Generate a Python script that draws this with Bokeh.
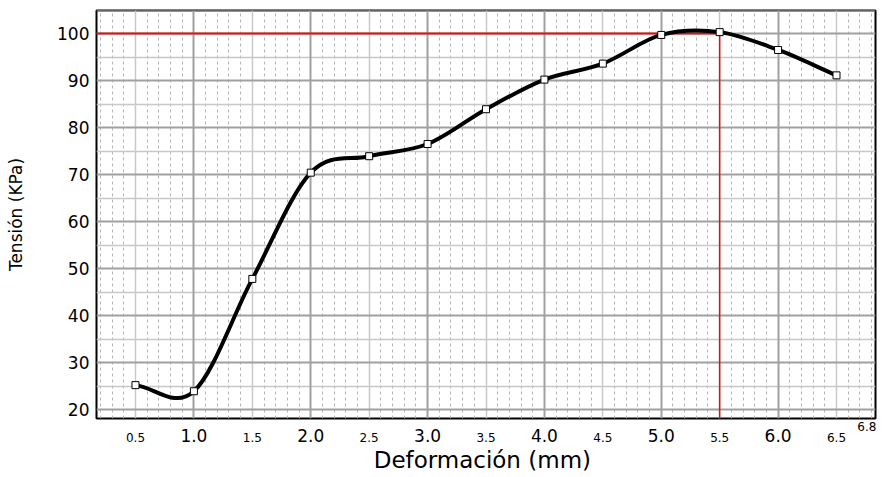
import numpy as np
from bokeh.plotting import figure
from bokeh.models import (ColumnDataSource, FixedTicker, Grid, LinearAxis,
                          NumeralTickFormatter, Range1d)
from bokeh.embed import file_html
from bokeh.resources import INLINE

# ---- data ----
deformacion = [0.5, 1.0, 1.5, 2.0, 2.5, 3.0, 3.5, 4.0, 4.5, 5.0, 5.5, 6.0, 6.5]
tension = [25.2, 23.9, 47.8, 70.4, 73.9, 76.5, 83.9, 90.2, 93.6, 99.7, 100.3, 96.5, 91.1]
peak_x = 5.5
peak_y = 100.0
y_ticks = [20, 30, 40, 50, 60, 70, 80, 90, 100]
y_half_ticks = [25, 35, 45, 55, 65, 75, 85, 95, 105]
x_major_ticks = [1.0, 2.0, 3.0, 4.0, 5.0, 6.0]
x_half_ticks = [0.5, 1.5, 2.5, 3.5, 4.5, 5.5, 6.5]
x_end_tick = [6.76]          # shown as "6.8" at the right end of the axis
x_start, x_end = 0.1662, 6.8338
y_start, y_end = 18.1, 104.9

FONT = "DejaVu Sans"

p = figure(width=882, height=477, output_backend="svg", toolbar_location=None,
           x_range=Range1d(x_start, x_end), y_range=Range1d(y_start, y_end),
           x_axis_location=None,
           min_border_left=96, min_border_right=7, min_border_top=10,
           min_border_bottom=59)
p.background_fill_color = "white"
p.border_fill_color = "white"
p.outline_line_color = "black"
p.outline_line_width = 2
p.outline_line_alpha = 1
for g in list(p.grid):
    g.visible = False

# ---- grids ----
minor_x = [round(v, 1) for v in np.arange(0.2, 6.85, 0.1)
           if abs(v * 2 - round(v * 2)) > 1e-6]
grids = [
    Grid(dimension=0, ticker=FixedTicker(ticks=minor_x),
         grid_line_color="#b4b4b4", grid_line_width=1, grid_line_dash="3 3"),
    Grid(dimension=0, ticker=FixedTicker(ticks=x_half_ticks),
         grid_line_color="#c8c8c8", grid_line_width=1.5),
    Grid(dimension=1, ticker=FixedTicker(ticks=y_half_ticks),
         grid_line_color="#c8c8c8", grid_line_width=1.5),
    Grid(dimension=0, ticker=FixedTicker(ticks=x_major_ticks),
         grid_line_color="#a0a0a0", grid_line_width=2),
    Grid(dimension=1, ticker=FixedTicker(ticks=y_ticks),
         grid_line_color="#a0a0a0", grid_line_width=2),
]
for g in grids:
    p.add_layout(g)


def bare_axis(ax, size, standoff):
    ax.axis_line_color = None
    ax.major_tick_line_color = None
    ax.minor_tick_line_color = None
    ax.major_tick_out = 0
    ax.major_tick_in = 0
    ax.minor_tick_out = 0
    ax.minor_tick_in = 0
    ax.major_label_text_font = FONT
    ax.major_label_text_font_size = size
    ax.major_label_text_color = "black"
    ax.major_label_standoff = standoff
    return ax


# ---- x axes: end label, half steps (small), whole steps (large) ----
ax_end = bare_axis(LinearAxis(ticker=FixedTicker(ticks=x_end_tick),
                              formatter=NumeralTickFormatter(format="0.0")),
                   "12px", 3)
ax_half = bare_axis(LinearAxis(ticker=FixedTicker(ticks=x_half_ticks),
                               formatter=NumeralTickFormatter(format="0.0")),
                    "12px", -1)
ax_int = bare_axis(LinearAxis(ticker=FixedTicker(ticks=x_major_ticks),
                              formatter=NumeralTickFormatter(format="0.0")),
                   "17px", -16)
ax_int.axis_label = "Deformación  (mm)"
ax_int.axis_label_text_font = FONT
ax_int.axis_label_text_font_size = "23px"
ax_int.axis_label_text_font_style = "normal"
ax_int.axis_label_text_color = "black"
ax_int.axis_label_standoff = 2
p.add_layout(ax_end, "below")
p.add_layout(ax_half, "below")
p.add_layout(ax_int, "below")

# ---- y axis ----
ya = bare_axis(p.yaxis[0], "17px", 7)
ya.ticker = FixedTicker(ticks=y_ticks)
ya.axis_label = "Tensión (KPa)"
ya.axis_label_text_font = FONT
ya.axis_label_text_font_size = "17px"
ya.axis_label_text_font_style = "normal"
ya.axis_label_text_color = "black"
ya.axis_label_standoff = 28

# ---- reference red lines ----
p.segment(x0=[x_start], y0=[peak_y], x1=[peak_x], y1=[peak_y],
          line_color="#e01010", line_width=2)
p.segment(x0=[peak_x], y0=[peak_y], x1=[peak_x], y1=[y_start],
          line_color="#e01010", line_width=1.5)

# ---- smooth curve through the points (Catmull-Rom as cubic Bezier) ----
xs = np.array(deformacion)
ys = np.array(tension)
m = np.empty_like(ys)
m[1:-1] = (ys[2:] - ys[:-2]) / (xs[2:] - xs[:-2])
m[0] = (ys[1] - ys[0]) / (xs[1] - xs[0])
m[-1] = (ys[-1] - ys[-2]) / (xs[-1] - xs[-2])
h = np.diff(xs)
bez = ColumnDataSource(dict(
    x0=xs[:-1], y0=ys[:-1], x1=xs[1:], y1=ys[1:],
    cx0=xs[:-1] + h / 3, cy0=ys[:-1] + m[:-1] * h / 3,
    cx1=xs[1:] - h / 3, cy1=ys[1:] - m[1:] * h / 3))
p.bezier(x0="x0", y0="y0", x1="x1", y1="y1", cx0="cx0", cy0="cy0",
         cx1="cx1", cy1="cy1", source=bez, line_color="black", line_width=4)

p.scatter(x=deformacion, y=tension, marker="square", size=7,
          fill_color="white", line_color="black", line_width=1)

open("out.html", "w").write(file_html(p, INLINE))
